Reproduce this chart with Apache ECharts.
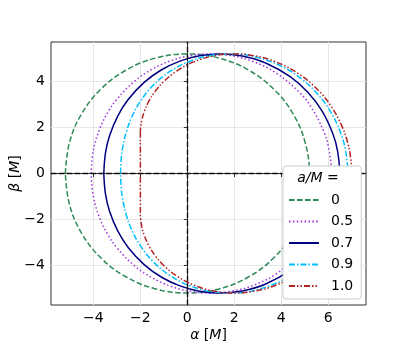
<!DOCTYPE html>
<html>
<head>
<meta charset="utf-8">
<script src="https://cdn.jsdelivr.net/npm/echarts@6/dist/echarts.min.js"></script>
<style>
  html, body { margin: 0; padding: 0; background: #fff; }
  #chart { width: 407px; height: 349px; }
</style>
</head>
<body>
<div id="chart"></div>
<script>
// shadow outlines, alpha (x) and beta (y) in units of M
const spins = ["0", "0.5", "0.7", "0.9", "1.0"];

const alpha0 = [-5.196, -5.019, -4.5, -3.674, -2.598, -1.345, 0, 1.345, 2.598, 3.674, 4.5, 5.019, 5.196,
  5.019, 4.5, 3.674, 2.598, 1.345, 0, -1.345, -2.598, -3.674, -4.5, -5.019, -5.196];
const beta0 = [0, 1.345, 2.598, 3.674, 4.5, 5.019, 5.196, 5.019, 4.5, 3.674, 2.598, 1.345, 0,
  -1.345, -2.598, -3.674, -4.5, -5.019, -5.196, -5.019, -4.5, -3.674, -2.598, -1.345, 0];

const alpha05 = [-4.096, -4.007, -3.723, -3.364, -3.0, -2.255, -1.485, -0.687, 0.141, 1.0, 1.891, 2.816, 3.776, 4.77, 5.281, 5.8, 6.01, 6.138,
  6.01, 5.8, 5.281, 4.77, 3.776, 2.816, 1.891, 1.0, 0.141, -0.687, -1.485, -2.255, -3.0, -3.364, -3.723, -4.007, -4.096];
const beta05 = [0, 0.974, 1.959, 2.691, 3.228, 4.005, 4.541, 4.906, 5.123, 5.196, 5.117, 4.86, 4.371, 3.528, 2.872, 1.852, 1.151, 0,
  -1.151, -1.852, -2.872, -3.528, -4.371, -4.86, -5.117, -5.196, -5.123, -4.906, -4.541, -4.005, -3.228, -2.691, -1.959, -0.974, 0];

const alpha07 = [-3.557, -3.485, -3.312, -2.964, -2.519, -1.827, -1.094, -0.314, 0.516, 1.4, 2.34, 3.338, 4.395, 5.132, 5.742, 6.21, 6.408, 6.49,
  6.408, 6.21, 5.742, 5.132, 4.395, 3.338, 2.34, 1.4, 0.516, -0.314, -1.094, -1.827, -2.519, -2.964, -3.312, -3.485, -3.557];
const beta07 = [0, 0.897, 1.638, 2.497, 3.214, 3.972, 4.509, 4.885, 5.116, 5.196, 5.106, 4.802, 4.196, 3.527, 2.707, 1.697, 0.929, 0,
  -0.929, -1.697, -2.707, -3.527, -4.196, -4.802, -5.106, -5.196, -5.116, -4.885, -4.509, -3.972, -3.214, -2.497, -1.638, -0.897, 0];

const alpha09 = [-2.844, -2.813, -2.737, -2.589, -2.371, -2.002, -1.473, -0.721, 0.147, 1.141, 2.03, 3.004, 4.064, 4.915, 5.632, 6.127, 6.508, 6.733, 6.832,
  6.733, 6.508, 6.127, 5.632, 4.915, 4.064, 3.004, 2.03, 1.141, 0.147, -0.721, -1.473, -2.002, -2.371, -2.589, -2.737, -2.813, -2.844];
const beta09 = [0, 0.659, 1.209, 1.834, 2.439, 3.137, 3.813, 4.445, 4.893, 5.15, 5.191, 5.042, 4.633, 4.07, 3.357, 2.642, 1.828, 1.022, 0,
  -1.022, -1.828, -2.642, -3.357, -4.07, -4.633, -5.042, -5.191, -5.15, -4.893, -4.445, -3.813, -3.137, -2.439, -1.834, -1.209, -0.659, 0];

const alpha10 = [-2.0, -1.99, -1.938, -1.84, -1.64, -1.36, -1.0, -0.438, 0.25, 1.063, 2.0, 2.84, 3.76, 4.76, 5.563, 6.123, 6.585, 6.821, 6.94, 7.0,
  6.94, 6.821, 6.585, 6.123, 5.563, 4.76, 3.76, 2.84, 2.0, 1.063, 0.25, -0.438, -1.0, -1.36, -1.64, -1.84, -1.938, -1.99, -2.0, -2.0];
const beta10 = [1.732, 1.965, 2.318, 2.671, 3.135, 3.582, 4.0, 4.465, 4.841, 5.099, 5.196, 5.12, 4.856, 4.32, 3.631, 2.926, 2.061, 1.37, 0.797, 0,
  -0.797, -1.37, -2.061, -2.926, -3.631, -4.32, -4.856, -5.12, -5.196, -5.099, -4.841, -4.465, -4.0, -3.582, -3.135, -2.671, -2.318, -1.965, -1.732, 1.732];

const xTicks = [-4, -2, 0, 2, 4, 6];
const yTicks = [-4, -2, 0, 2, 4];

const FONT = "DejaVu Sans";
const minus = v => String(v).replace("-", "\u2212");

const curves = [
  { alpha: alpha0, beta: beta0, color: "#2e8b57", dash: [5.5, 2.5] },
  { alpha: alpha05, beta: beta05, color: "#a030e0", dash: [1.5, 2.4] },
  { alpha: alpha07, beta: beta07, color: "#000080", dash: "solid" },
  { alpha: alpha09, beta: beta09, color: "#00bfff", dash: [6, 2, 1.5, 2] },
  { alpha: alpha10, beta: beta10, color: "#b22222", dash: [6, 2, 1.5, 2, 1.5, 2] },
];

const series = curves.map((c, k) => ({
  name: spins[k],
  type: "line",
  data: c.alpha.map((a, i) => [a, c.beta[i]]),
  symbol: "none",
  smooth: 0.4,
  lineStyle: { color: c.color, width: 1.5, type: c.dash },
  itemStyle: { color: c.color },
}));

// dashed zero lines
series.push({
  type: "line",
  data: [],
  z: 3,
  markLine: {
    silent: true,
    symbol: "none",
    animation: false,
    label: { show: false },
    lineStyle: { color: "#111", width: 1.4, type: [5.5, 2.4] },
    data: [{ xAxis: 0 }, { yAxis: 0 }],
  },
});

const italic = { fontStyle: "italic", fontFamily: FONT, fontSize: 14, color: "#000" };

const chart = echarts.init(document.getElementById("chart"));
chart.setOption({
  animation: false,
  grid: {
    left: 51, right: 41, top: 42, bottom: 44,
    outerBoundsMode: "none",
    containLabel: false,
    show: true, borderColor: "#333", borderWidth: 1,
  },
  xAxis: {
    type: "value",
    min: -5.806,
    max: 7.61,
    name: "{i|α} [{i|M}]",
    nameLocation: "middle",
    nameGap: 23,
    nameMoveOverlap: false,
    nameTextStyle: { fontFamily: FONT, fontSize: 14, color: "#000", rich: { i: italic } },
    axisLine: { lineStyle: { color: "#333" } },
    axisTick: { length: 3.5, lineStyle: { color: "#333" }, customValues: xTicks },
    axisLabel: { customValues: xTicks, formatter: minus, fontFamily: FONT, fontSize: 14, color: "#000", margin: 6 },
    splitLine: { show: true, lineStyle: { color: "#e6e6e6", width: 1 } },
  },
  yAxis: {
    type: "value",
    min: -5.716,
    max: 5.716,
    name: "{i|β} [{i|M}]",
    nameLocation: "middle",
    nameGap: 29,
    nameMoveOverlap: false,
    nameTextStyle: { fontFamily: FONT, fontSize: 14, color: "#000", rich: { i: italic } },
    axisLine: { show: true, lineStyle: { color: "#333" } },
    axisTick: { show: true, length: 3.5, lineStyle: { color: "#333" }, customValues: yTicks },
    axisLabel: { customValues: yTicks, formatter: minus, fontFamily: FONT, fontSize: 14, color: "#000", margin: 6 },
    splitLine: { show: true, lineStyle: { color: "#e6e6e6", width: 1 } },
  },
  legend: {
    data: spins,
    orient: "vertical",
    left: 283,
    top: 166,
    z: 20,
    padding: [27, 8, 6, 5],
    itemWidth: 30,
    itemHeight: 14,
    itemGap: 7.5,
    backgroundColor: "#fff",
    borderColor: "#cccccc",
    borderWidth: 1,
    borderRadius: 3,
    itemStyle: { opacity: 0 },
    textStyle: { fontFamily: FONT, fontSize: 14, color: "#000", padding: [0, 0, 0, 7] },
  },
  graphic: [{
    type: "text",
    z: 30,
    x: 318,
    y: 178,
    style: {
      text: "{i|a/M} =",
      align: "center",
      verticalAlign: "middle",
      fontFamily: FONT,
      fontSize: 14,
      fill: "#000",
      rich: { i: { fontStyle: "italic", fontFamily: FONT, fontSize: 14 } },
    },
  }],
  series: series,
});
</script>
</body>
</html>
